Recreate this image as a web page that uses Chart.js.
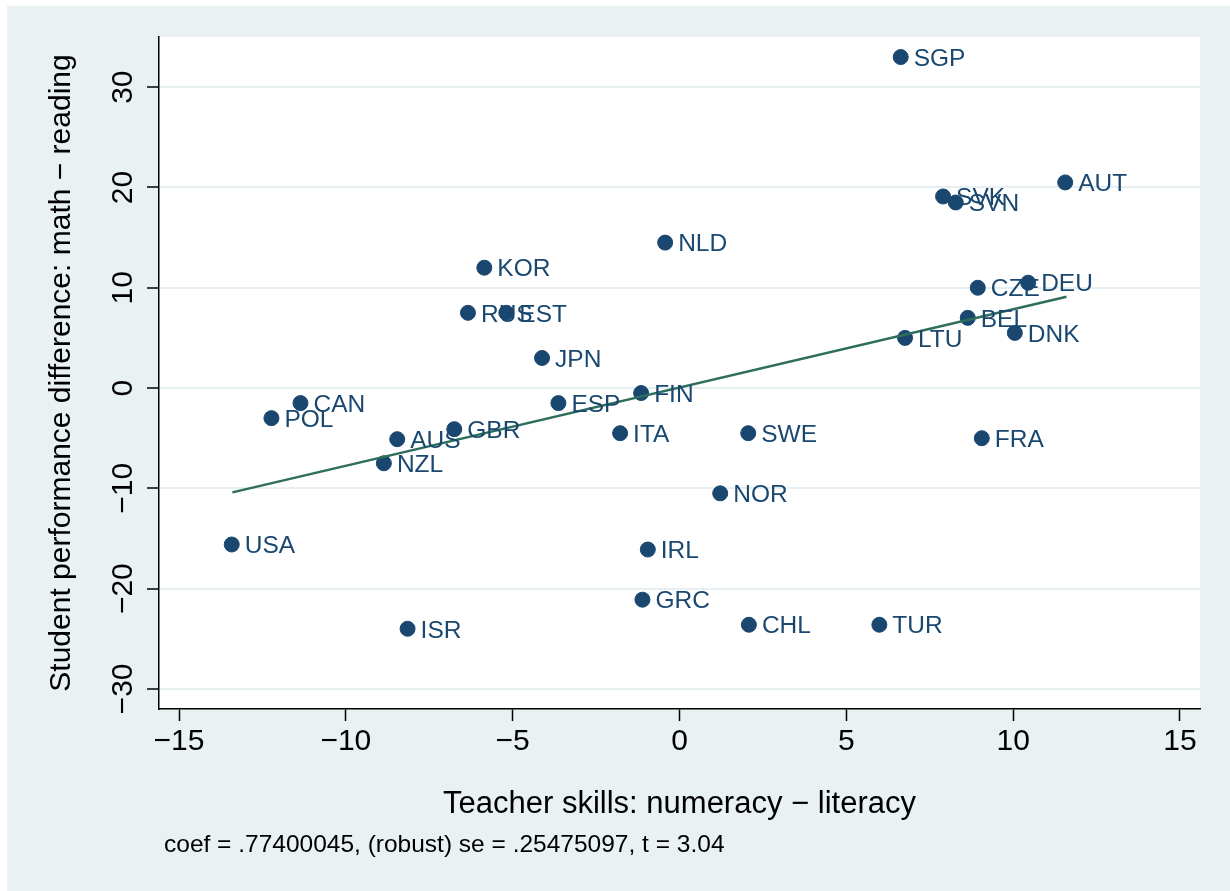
<!DOCTYPE html>
<html>
<head>
<meta charset="utf-8">
<script src="https://cdn.jsdelivr.net/npm/chart.js@4.4.0/dist/chart.umd.min.js"></script>
<style>
  body { margin: 0; background: #fff; }
  canvas { display: block; }
</style>
</head>
<body>
<canvas id="scatter" width="1230" height="891"></canvas>
<script>
// country codes and values
const countries = ['SGP','AUT','SVK','SVN','NLD','KOR','DEU','CZE','RUS','EST','BEL','DNK','LTU','JPN','CAN','FIN','ESP','POL','GBR','ITA','SWE','AUS','FRA','NZL','NOR','USA','IRL','GRC','CHL','TUR','ISR'];
// teacher skills: numeracy - literacy
const teacherGap = [6.63, 11.56, 7.90, 8.28, -0.43, -5.85, 10.45, 8.94, -6.34, -5.19, 8.64, 10.05, 6.76, -4.12, -11.36, -1.15, -3.63, -12.23, -6.75, -1.78, 2.06, -8.46, 9.06, -8.86, 1.22, -13.42, -0.95, -1.11, 2.08, 5.99, -8.15];
// student performance difference: math - reading
const studentGap = [33.0, 20.5, 19.1, 18.5, 14.5, 12.0, 10.5, 10.0, 7.5, 7.5, 7.0, 5.5, 5.0, 3.0, -1.5, -0.5, -1.5, -3.0, -4.1, -4.5, -4.5, -5.1, -5.0, -7.5, -10.5, -15.6, -16.1, -21.1, -23.6, -23.6, -24.0];
// fitted line end points
const fitX = [-13.4, 11.6];
const fitY = [-10.4, 9.1];
// ticks
const xTicks = [-15, -10, -5, 0, 5, 10, 15];
const yTicks = [-30, -20, -10, 0, 10, 20, 30];

const navy = '#1a476f';
const fontFam = '"Liberation Sans", Arial, sans-serif';
const minus = v => String(v).replace('-', '\u2212');

// background, plot region and free text
const stataPlugin = {
  id: 'stata',
  beforeDraw(chart) {
    const ctx = chart.ctx;
    const a = chart.chartArea;
    ctx.save();
    ctx.fillStyle = '#ffffff';
    ctx.fillRect(0, 0, chart.width, chart.height);
    ctx.fillStyle = '#e9f1f3';
    ctx.fillRect(7, 6, chart.width - 7, chart.height - 6);
    ctx.fillStyle = '#ffffff';
    ctx.fillRect(a.left, a.top, a.right - a.left, a.bottom - a.top);
    ctx.restore();
  },
  afterDraw(chart) {
    const ctx = chart.ctx;
    const a = chart.chartArea;
    const ys = chart.scales.y;
    ctx.save();
    ctx.fillStyle = '#000';
    // y tick labels, rotated
    ctx.font = '30px ' + fontFam;
    ctx.textAlign = 'center';
    ctx.textBaseline = 'alphabetic';
    yTicks.forEach(v => {
      const py = ys.getPixelForValue(v);
      ctx.save();
      ctx.translate(132, py);
      ctx.rotate(-Math.PI / 2);
      ctx.fillText(minus(v), 0, 0);
      ctx.restore();
    });
    // y title
    ctx.save();
    ctx.font = '30px ' + fontFam;
    ctx.translate(70, (a.top + a.bottom) / 2);
    ctx.rotate(-Math.PI / 2);
    ctx.fillText('Student performance difference: math \u2212 reading', 0, 0);
    ctx.restore();
    // x title
    ctx.font = '31px ' + fontFam;
    ctx.fillText('Teacher skills: numeracy \u2212 literacy', (a.left + a.right) / 2, 813);
    // note
    ctx.font = '24.5px ' + fontFam;
    ctx.textAlign = 'left';
    ctx.fillText('coef = .77400045, (robust) se = .25475097, t = 3.04', 164, 852);
    ctx.restore();
  },
  afterDatasetsDraw(chart) {
    const ctx = chart.ctx;
    const meta = chart.getDatasetMeta(1);
    ctx.save();
    ctx.font = '24.5px ' + fontFam;
    ctx.fillStyle = navy;
    ctx.textAlign = 'left';
    ctx.textBaseline = 'middle';
    meta.data.forEach((pt, i) => {
      ctx.fillText(countries[i], pt.x + 13, pt.y + 2);
    });
    ctx.restore();
  }
};

new Chart(document.getElementById('scatter'), {
  type: 'scatter',
  data: {
    datasets: [{
      type: 'line',
      label: 'Fitted values',
      data: fitX.map((x, i) => ({ x: x, y: fitY[i] })),
      borderColor: '#2e6e5c',
      borderWidth: 2.5,
      pointRadius: 0,
      fill: false,
      order: 0
    }, {
      label: 'Countries',
      data: teacherGap.map((x, i) => ({ x: x, y: studentGap[i] })),
      backgroundColor: navy,
      borderColor: navy,
      borderWidth: 1,
      pointRadius: 7.5,
      order: 1
    }]
  },
  options: {
    responsive: false,
    animation: false,
    layout: { padding: { left: 0, top: 37, right: 30, bottom: 0 } },
    plugins: { legend: { display: false }, tooltip: { enabled: false } },
    scales: {
      x: {
        type: 'linear',
        min: -15.6,
        max: 15.6,
        afterFit: s => { s.height = 182; },
        afterBuildTicks: s => { s.ticks = xTicks.map(v => ({ value: v })); },
        border: { color: '#000', width: 1.5 },
        grid: { drawOnChartArea: false, drawTicks: true, tickLength: 12, tickColor: '#000', tickWidth: 1.5 },
        ticks: {
          color: '#000',
          font: { family: fontFam, size: 30 },
          padding: 3,
          maxRotation: 0,
          callback: v => minus(v)
        }
      },
      y: {
        type: 'linear',
        min: -32,
        max: 35,
        afterFit: s => { s.width = 159; },
        afterBuildTicks: s => { s.ticks = yTicks.map(v => ({ value: v })); },
        border: { color: '#000', width: 1.5 },
        grid: { color: '#e6eff2', lineWidth: 2, drawTicks: true, tickLength: 12, tickColor: '#000', tickWidth: 1.5 },
        ticks: { display: false }
      }
    }
  },
  plugins: [stataPlugin]
});
</script>
</body>
</html>
